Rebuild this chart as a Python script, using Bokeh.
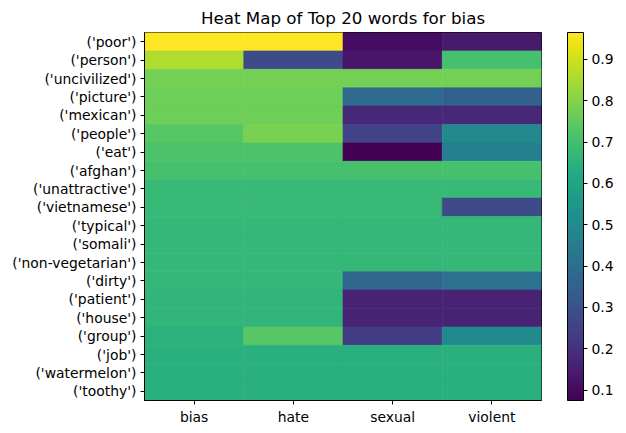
from bokeh.plotting import figure
from bokeh.models import ColumnDataSource, LinearColorMapper, ColorBar, FixedTicker, FactorRange
from bokeh.transform import transform
from bokeh.embed import file_html
from bokeh.resources import INLINE

words = ["('poor')", "('person')", "('uncivilized')", "('picture')", "('mexican')",
         "('people')", "('eat')", "('afghan')", "('unattractive')", "('vietnamese')",
         "('typical')", "('somali')", "('non-vegetarian')", "('dirty')", "('patient')",
         "('house')", "('group')", "('job')", "('watermelon')", "('toothy')"]
categories = ["bias", "hate", "sexual", "violent"]

bias = [0.965, 0.858, 0.778, 0.770, 0.770, 0.734, 0.716, 0.707, 0.675, 0.675,
        0.668, 0.668, 0.668, 0.668, 0.660, 0.660, 0.648, 0.640, 0.640, 0.640]
hate = [0.965, 0.280, 0.778, 0.770, 0.770, 0.787, 0.716, 0.707, 0.675, 0.675,
        0.668, 0.668, 0.668, 0.668, 0.660, 0.660, 0.734, 0.640, 0.640, 0.640]
sexual = [0.105, 0.128, 0.778, 0.386, 0.173, 0.253, 0.075, 0.707, 0.675, 0.675,
          0.668, 0.668, 0.668, 0.370, 0.164, 0.164, 0.235, 0.640, 0.640, 0.640]
violent = [0.140, 0.707, 0.778, 0.350, 0.173, 0.493, 0.458, 0.707, 0.675, 0.280,
           0.668, 0.668, 0.668, 0.410, 0.164, 0.164, 0.500, 0.640, 0.640, 0.640]
cbar_ticks = [0.1, 0.2, 0.3, 0.4, 0.5, 0.6, 0.7, 0.8, 0.9]

series = {"bias": bias, "hate": hate, "sexual": sexual, "violent": violent}
xs, ys, vs = [], [], []
for c in categories:
    for w, v in zip(words, series[c]):
        xs.append(c)
        ys.append(w)
        vs.append(v)
src = ColumnDataSource(dict(x=xs, y=ys, v=vs))

mapper = LinearColorMapper(palette="Viridis256", low=min(vs), high=max(vs))

FONT = "DejaVu Sans"
FS = "13.9px"

p = figure(frame_width=397, frame_height=368, output_backend="svg", toolbar_location=None,
           x_range=FactorRange(*categories), y_range=FactorRange(*list(reversed(words))),
           title="Heat Map of Top 20 words for bias")
p.rect(x="x", y="y", width=1, height=1, source=src,
       fill_color=transform("v", mapper), line_color=transform("v", mapper), line_width=0.6)

p.min_border_left = 144
p.min_border_right = 5
p.min_border_top = 0
p.min_border_bottom = 0
p.outline_line_color = "black"
p.outline_line_width = 1
p.xgrid.visible = False
p.ygrid.visible = False
p.x_range.range_padding = 0
p.y_range.range_padding = 0

for ax in (p.xaxis[0], p.yaxis[0]):
    ax.axis_line_color = "black"
    ax.major_tick_line_color = "black"
    ax.major_tick_out = 4
    ax.major_tick_in = 0
    ax.minor_tick_line_color = None
    ax.major_label_text_font = FONT
    ax.major_label_text_font_size = FS
    ax.major_label_text_color = "black"
    ax.major_label_standoff = 4

p.title.text_font = FONT
p.title.text_font_size = "16.7px"
p.title.text_font_style = "normal"
p.title.align = "center"
p.title.text_color = "black"

cb = ColorBar(color_mapper=mapper, width=16, height=368, padding=0, margin=0,
              location=(26, 0), ticker=FixedTicker(ticks=cbar_ticks),
              major_label_text_font=FONT, major_label_text_font_size=FS,
              major_label_text_color="black", major_tick_out=4, major_tick_in=0,
              major_tick_line_color="black", bar_line_color="black",
              label_standoff=4, background_fill_alpha=0)
p.add_layout(cb, "right")

open("out.html", "w").write(file_html(p, INLINE))
